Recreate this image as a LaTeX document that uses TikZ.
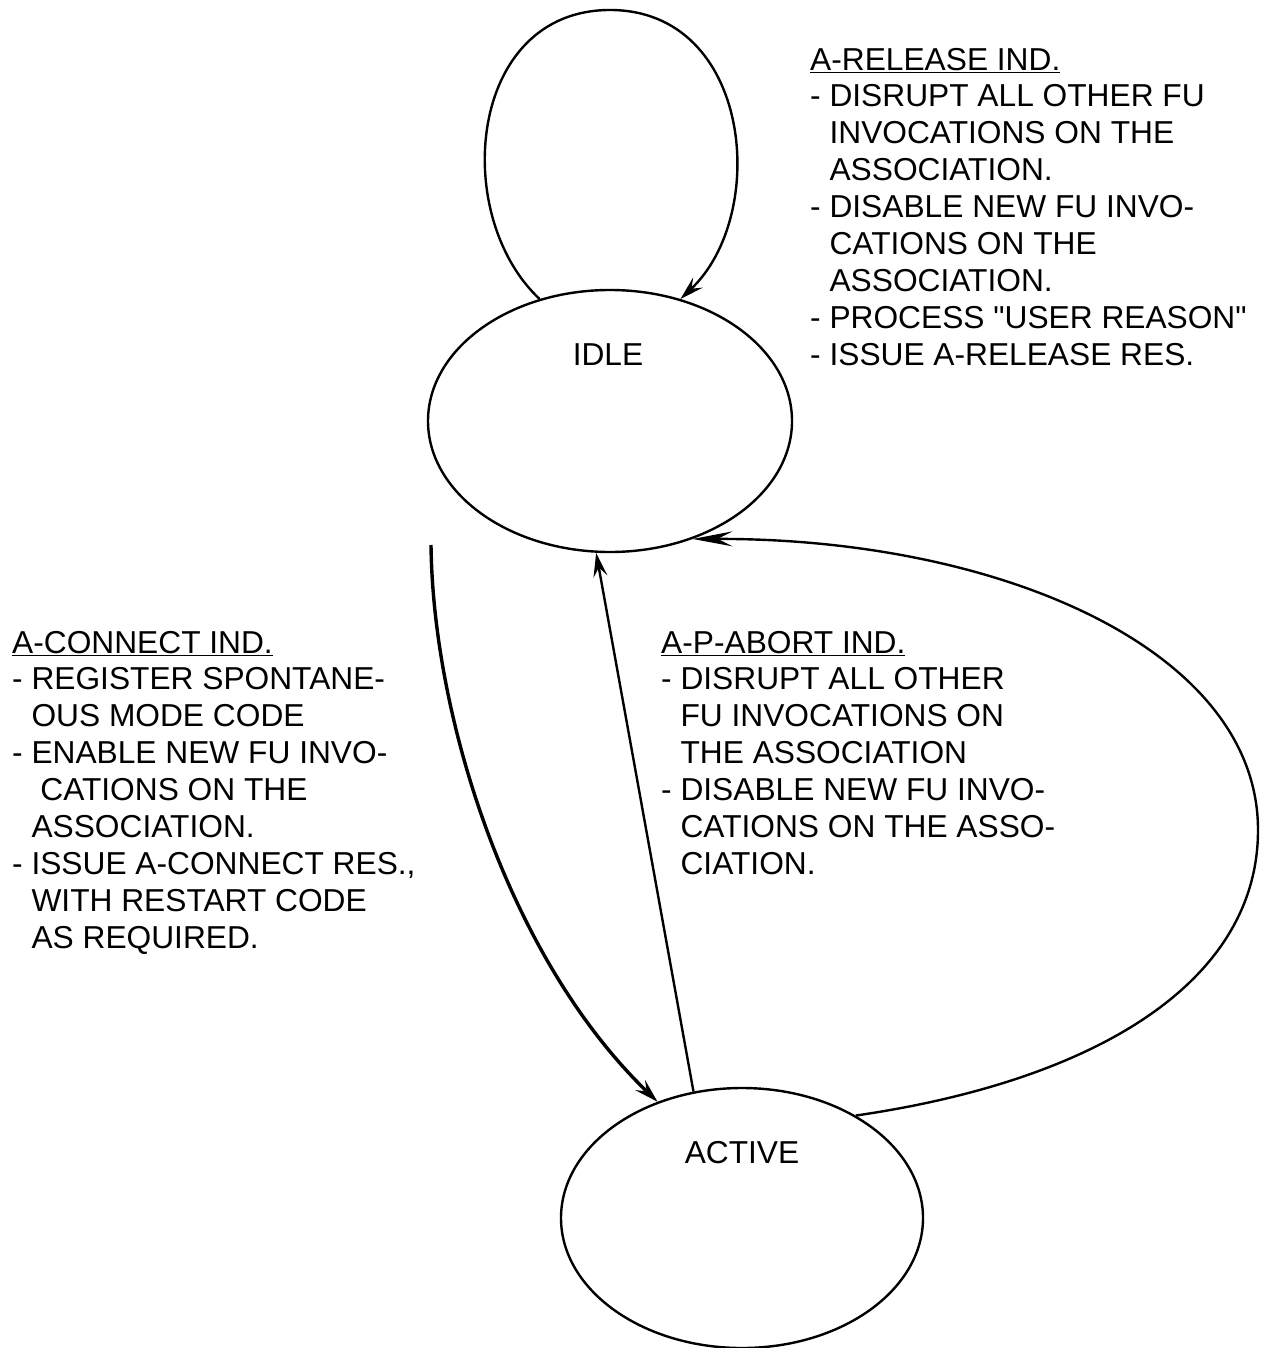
\documentclass[tikz,border=0pt]{standalone}
\usepackage{fontspec}
\setmainfont{Liberation Sans}[Ligatures=TeXOff]
\usetikzlibrary{arrows.meta,shapes.geometric}
\newcommand\ind{\hphantom{-\ }}
\begin{document}
\begin{tikzpicture}[x=1pt,y=-1pt, line width=2.4pt,
  state/.style={draw, ellipse, minimum width=364pt, minimum height=262pt, inner sep=0pt},
  lbl/.style={font=\fontsize{31.7}{36.9}\selectfont, inner sep=0pt},
  txt/.style={lbl, align=left, anchor=base west},
  arr/.style={-{Stealth[length=24pt,width=14pt,inset=9pt]}},
  longarr/.style={-{Stealth[length=40pt,width=15pt,inset=15pt]}}]
\useasboundingbox (0,0) rectangle (1266,1348);
% states
\node[state] (idle) at (610,421) {};
\node[lbl, anchor=base] (idlet) at (608,365) {IDLE};
\node[state, minimum width=362pt, minimum height=260pt] (active) at (742,1218) {};
\node[lbl, anchor=base] (activet) at (742,1163) {ACTIVE};
% connectors
\draw[arr] (idle.120) .. controls (450,215) and (468,10) .. (610,10)
  .. controls (752,10) and (770,215) .. (idle.60);
\coordinate (cstart) at (431,545);
\draw[arr, line width=3.4pt] (cstart) .. controls (433,720) and (510,960) .. (active.126);
\draw[arr] (active.111) -- (idle.264);
\draw[longarr] (active.42) .. controls (1100,1080) and (1258,980) .. (1258,830)
  .. controls (1258,650) and (1000,538) .. (idle.305);
% texts (anchored at the baseline of the last line)
\node[txt] (rel) at (809,365.2) {\underline{A-RELEASE IND.}\\
- DISRUPT ALL OTHER FU\\
\ind INVOCATIONS ON THE\\
\ind ASSOCIATION.\\
- DISABLE NEW FU INVO-\\
\ind CATIONS ON THE\\
\ind ASSOCIATION.\\
- PROCESS "USER REASON"\\
- ISSUE A-RELEASE RES.};
\node[txt] (con) at (11,948.2) {\underline{A-CONNECT IND.}\\
- REGISTER SPONTANE-\\
\ind OUS MODE CODE\\
- ENABLE NEW FU INVO-\\
\ind\ CATIONS ON THE\\
\ind ASSOCIATION.\\
- ISSUE A-CONNECT RES.,\\
\ind WITH RESTART CODE\\
\ind AS REQUIRED.};
\node[txt] (abo) at (660,874.4) {\underline{A-P-ABORT IND.}\\
- DISRUPT ALL OTHER\\
\ind FU INVOCATIONS ON\\
\ind THE ASSOCIATION\\
- DISABLE NEW FU INVO-\\
\ind CATIONS ON THE ASSO-\\
\ind CIATION.};
\end{tikzpicture}
\end{document}
